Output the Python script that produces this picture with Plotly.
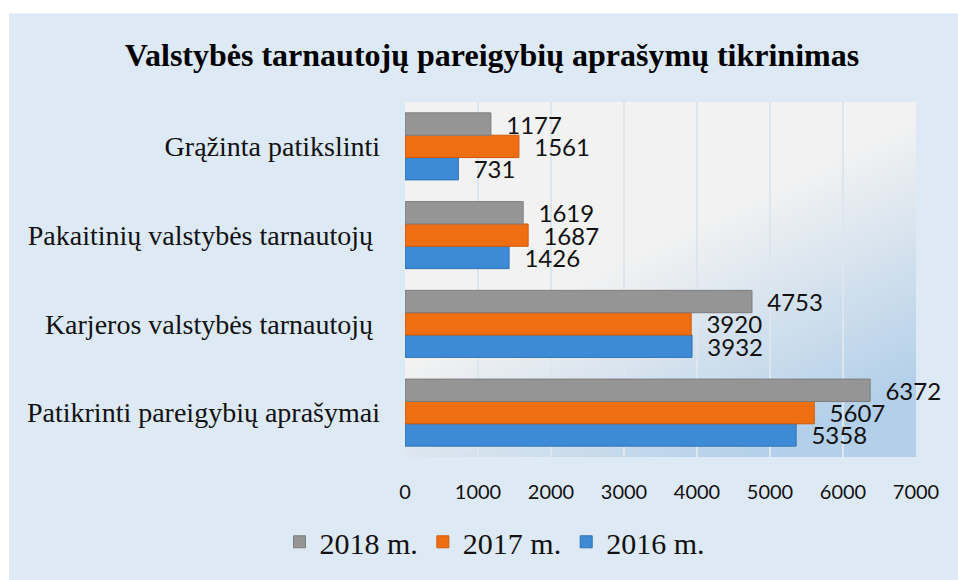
import base64
import plotly.graph_objects as go

categories = ["Patikrinti pareigybių aprašymai", "Karjeros valstybės tarnautojų ",
              "Pakaitinių valstybės tarnautojų ", "Grąžinta patikslinti"]
series_names = ["2016 m.", "2017 m.", "2018 m."]
values_2016 = [5358, 3932, 1426, 731]
values_2017 = [5607, 3920, 1687, 1561]
values_2018 = [6372, 4753, 1619, 1177]
x_ticks = [0, 1000, 2000, 3000, 4000, 5000, 6000, 7000]

colors = ["#3d8ad6", "#f06e12", "#959595"]
line_colors = ["#3272b4", "#cf5a0b", "#7d7d7d"]

fig = go.Figure()
for name, vals, c, lc in zip(series_names, [values_2016, values_2017, values_2018], colors, line_colors):
    fig.add_trace(go.Bar(
        y=categories, x=vals, name=name, orientation="h",
        marker=dict(color=c, line=dict(color=lc, width=1)),
        texttemplate="\u00a0\u00a0%{x}", textposition="outside",
        constraintext="none", cliponaxis=False,
        textfont=dict(family="Lato", size=24, color="#111111"),
    ))

svg = ('<svg xmlns="http://www.w3.org/2000/svg" width="100" height="100" preserveAspectRatio="none">'
       '<defs><linearGradient id="g" x1="0" y1="0" x2="0.7" y2="1">'
       '<stop offset="0" stop-color="#f2f2f2"/><stop offset="0.5" stop-color="#f2f2f2"/>'
       '<stop offset="1" stop-color="#b3cfe9"/></linearGradient></defs>'
       '<rect width="100" height="100" fill="url(#g)"/></svg>')
src = "data:image/svg+xml;base64," + base64.b64encode(svg.encode()).decode()

W, H = 958, 580
L, R, T, B = 405, 42, 102, 118
pw, ph = W - L - R, H - T - B

def px_x(p):
    return (p - L) / pw

def px_y(p):
    return (H - B - p) / ph

fig.update_layout(
    width=W, height=H,
    margin=dict(l=L, r=R, t=T, b=B, pad=0),
    paper_bgcolor="#dde9f5",
    plot_bgcolor="rgba(0,0,0,0)",
    barmode="group", bargap=0.245, bargroupgap=0,
    title=dict(text="<b>Valstybės tarnautojų pareigybių aprašymų tikrinimas</b>",
               font=dict(family="Liberation Serif", size=32, color="#000000"),
               x=492 / W, xanchor="center", y=1 - 55 / H, yanchor="middle", xref="container", yref="container"),
    xaxis=dict(range=[0, 7000], tickvals=x_ticks, showgrid=True, gridcolor="#dde5ee", gridwidth=2,
               zeroline=False, showline=False, ticks="", ticklabelstandoff=21,
               tickfont=dict(family="Lato", size=20, color="#111111")),
    yaxis=dict(categoryorder="array", categoryarray=categories, showgrid=False, zeroline=False,
               showline=False, ticks="", ticklabelstandoff=24,
               tickfont=dict(family="Liberation Serif", size=28, color="#111111")),
    legend=dict(orientation="h", traceorder="reversed", x=px_x(495), xanchor="center",
                y=px_y(548), yanchor="middle", font=dict(family="Liberation Serif", size=30, color="#111111"),
                bgcolor="rgba(0,0,0,0)", itemwidth=30),
    images=[dict(source=src, xref="paper", yref="paper", x=0, y=1, sizex=1, sizey=1,
                 sizing="stretch", layer="below", xanchor="left", yanchor="top")],
    shapes=[
        dict(type="rect", xref="paper", yref="paper", x0=px_x(-5), x1=px_x(9), y0=px_y(600), y1=px_y(-5),
             fillcolor="white", line=dict(width=0), layer="above"),
        dict(type="rect", xref="paper", yref="paper", x0=px_x(-5), x1=px_x(965), y0=px_y(12), y1=px_y(-5),
             fillcolor="white", line=dict(width=0), layer="above"),
    ],
    showlegend=True,
)

fig.write_html("out.html")
